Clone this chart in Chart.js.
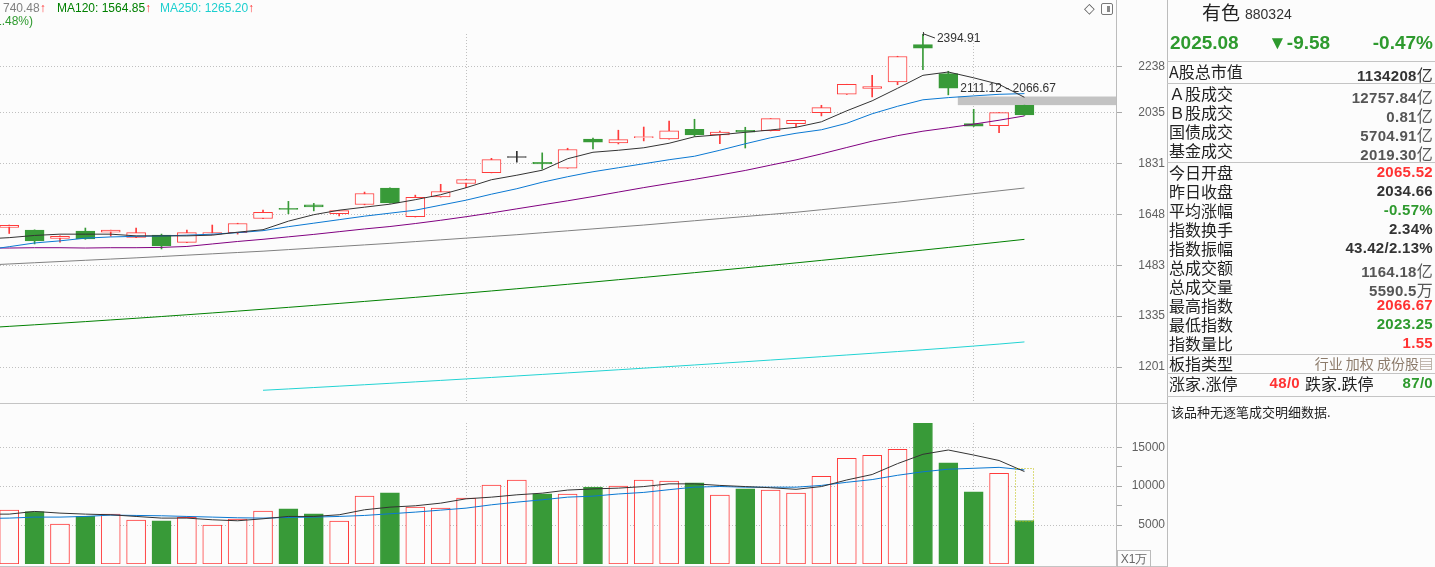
<!DOCTYPE html>
<html>
<head>
<meta charset="utf-8">
<script src="https://cdn.jsdelivr.net/npm/chart.js@4.4.1/dist/chart.umd.min.js"></script>
<style>
  body { margin:0; background:#fcfcfc; width:1435px; height:567px; overflow:hidden; position:relative;
         font-family:"Liberation Sans", Arial, sans-serif; }
  #pricebox { position:absolute; left:0; top:0; width:1165px; height:403px; }
  #volbox { position:absolute; left:0; top:404px; width:1165px; height:163px; }
  .hl { position:absolute; height:1px; background:#c4c4c4; }
  .vl { position:absolute; width:1px; background:#bcbcbc; }
  .hd { position:absolute; font-size:12px; line-height:14px; white-space:nowrap; }
  .up { color:#ff3030; }
  .rp { position:absolute; left:1169px; width:265px; height:19px; line-height:19px; font-size:16px;
        font-family:"Noto Sans CJK SC", sans-serif; color:#222; white-space:nowrap; }
  .rp b { position:absolute; right:1px; top:0; font:bold 15px "Liberation Sans", Arial, sans-serif; letter-spacing:0.3px; color:#333; }
  .rp b i { font:normal 16px "Noto Sans CJK SC", sans-serif; font-style:normal; }
  .g { color:#2e9a2e !important; }
  .r { color:#ff3232 !important; }
  .gy { color:#555 !important; }
</style>
</head>
<body>
<div id="pricebox"><canvas id="price"></canvas></div>
<div id="volbox"><canvas id="vol"></canvas></div>

<!-- frame lines -->
<div class="vl" style="left:1116px;top:0;height:567px"></div>
<div class="vl" style="left:1167px;top:0;height:567px"></div>
<div class="hl" style="left:0;top:403px;width:1167px"></div>
<div class="hl" style="left:0;top:566px;width:1167px"></div>

<!-- header -->
<div class="hd" style="left:3px;top:1px;color:#808080">740.48<span class="up">↑</span></div>
<div class="hd" style="left:57px;top:1px;color:#008000">MA120: 1564.85<span class="up">↑</span></div>
<div class="hd" style="left:160px;top:1px;color:#1ccfcf">MA250: 1265.20<span class="up">↑</span></div>
<div class="hd" style="left:-5px;top:14px;color:#2e9a2e">1.48%)</div>
<div class="hd" style="left:1084px;top:1px;font-size:14px;color:#555">◇</div>
<div style="position:absolute;left:1101px;top:3px;width:10px;height:10px;border:1px solid #777;border-radius:2px">
  <div style="position:absolute;left:5px;top:2px;width:3px;height:6px;background:#888"></div>
</div>
<div style="position:absolute;left:1117px;top:550px;width:32px;height:16px;border:1px solid #bbb;font-size:12px;line-height:16px;color:#666;text-align:center">X1万</div>

<!-- right panel -->
<div style="position:absolute;left:1202px;top:0;font:19px 'Noto Sans CJK SC';line-height:24px;color:#222">有色</div>
<div style="position:absolute;left:1245px;top:6px;font:14px 'Liberation Sans';color:#333">880324</div>
<div style="position:absolute;left:1170px;top:32px;font:bold 19px 'Liberation Sans';color:#2e9a2e">2025.08</div>
<div style="position:absolute;left:1268px;top:32px;font:bold 19px 'Liberation Sans';color:#2e9a2e">▼-9.58</div>
<div style="position:absolute;right:2px;top:32px;font:bold 19px 'Liberation Sans';color:#2e9a2e">-0.47%</div>
<div class="hl" style="left:1167px;top:61px;width:268px"></div>
<div class="rp" style="top:62px">A股总市值<b>1134208<i>亿</i></b></div>
<div class="hl" style="left:1167px;top:83px;width:268px"></div>
<div class="rp" style="top:84px">Ａ股成交<b class="gy">12757.84<i>亿</i></b></div>
<div class="rp" style="top:103px">Ｂ股成交<b class="gy">0.81<i>亿</i></b></div>
<div class="rp" style="top:122px">国债成交<b class="gy">5704.91<i>亿</i></b></div>
<div class="rp" style="top:141px">基金成交<b class="gy">2019.30<i>亿</i></b></div>
<div class="hl" style="left:1167px;top:162px;width:268px"></div>
<div class="rp" style="top:163px">今日开盘<b class="r">2065.52</b></div>
<div class="rp" style="top:182px">昨日收盘<b>2034.66</b></div>
<div class="rp" style="top:201px">平均涨幅<b class="g">-0.57%</b></div>
<div class="rp" style="top:220px">指数换手<b>2.34%</b></div>
<div class="rp" style="top:239px">指数振幅<b>43.42/2.13%</b></div>
<div class="rp" style="top:258px">总成交额<b class="gy">1164.18<i>亿</i></b></div>
<div class="rp" style="top:277px">总成交量<b class="gy">5590.5<i>万</i></b></div>
<div class="rp" style="top:296px">最高指数<b class="r">2066.67</b></div>
<div class="rp" style="top:315px">最低指数<b class="g">2023.25</b></div>
<div class="rp" style="top:334px">指数量比<b class="r">1.55</b></div>
<div class="hl" style="left:1167px;top:354px;width:268px"></div>
<div class="rp" style="top:354px">板指类型<span style="position:absolute;right:1px;font-size:14px;color:#8c7b6b">行业 加权 成份股▤</span></div>
<div class="hl" style="left:1167px;top:373px;width:268px"></div>
<div class="rp" style="top:374px">涨家.涨停<b class="r" style="right:134px">48/0</b><span style="position:absolute;left:136px">跌家.跌停</span><b class="g">87/0</b></div>
<div class="hl" style="left:1167px;top:396px;width:268px"></div>
<div style="position:absolute;left:1171px;top:402px;font:13px 'Noto Sans CJK SC';color:#222">该品种无逐笔成交明细数据.</div>

<script>
// daily candles, oldest first (index 40 = today)
const OPEN  = [1604,1595,1568,1592,1588,1571,1579,1555,1582,1587,1634,1667,1681,1650,1682,1740,1640,1709,1757,1797,1854,1836,1814,1926,1911,1932,1927,1966,1943,1962,1960,1989,2035,2114,2139,2168,2343,2206,1989,1981,2065.52];
const HIGH  = [1612,1596,1576,1602,1595,1602,1582,1595,1612,1618,1663,1693,1686,1662,1726,1741,1715,1754,1772,1851,1878,1872,1890,1930,1962,1975,1999,2007,1958,1974,2010,2003,2066,2158,2198,2287,2394.91,2217,2049,2035,2066.67];
const LOW   = [1584,1550,1556,1565,1575,1570,1534,1554,1581,1582,1633,1650,1660,1643,1681,1687,1639,1708,1742,1796,1836,1810,1813,1887,1907,1919,1926,1937,1908,1891,1959,1975,2021,2113,2102,2156,2224,2111.12,1977,1952,2023.25];
const CLOSE = [1611,1560,1575,1566,1595,1587,1544,1587,1587,1617,1655,1665,1674,1661,1721,1688,1707,1728,1771,1846,1854,1830,1885,1914,1924,1933,1960,1943,1954,1954,2010,2003,2056,2158,2148,2286,2326,2141,1978,2034.66,2025.08];
const VOLUME = [6923,6752,5128,6111,6410,5641,5556,5983,5000,5769,6795,7094,6453,5513,8718,9145,7308,7180,8462,10128,10769,9017,8975,9872,10000,10769,10641,10427,8846,9658,9487,9103,11282,13590,13974,14744,18120,12991,9274,11667,5590.5];
const PROJ_VOL = 12350;   // dotted box on today's bar

// moving averages; first entry is the session just left of the window
const MA5   = [1566,1570.4,1577.6,1581.8,1581.8,1581.8,1576.2,1576.2,1576.2,1578.5,1588.3,1596.5,1625.0,1646.9,1662.4,1672.8,1683.2,1698.9,1716.6,1741.6,1770.7,1787.3,1805.9,1849.4,1874.4,1882.2,1891.9,1909.7,1935.5,1943.6,1953.6,1962.9,1973.9,1996.5,2042.6,2085.3,2140.0,2198.4,2213.5,2187.0,2157.7,2100.5];
const MA10  = [1530,1541.3,1553.2,1560.0,1568.8,1572.7,1574.6,1575.9,1578.5,1581.8,1586.7,1593.3,1606.5,1618.2,1630.0,1641.9,1652.1,1662.4,1679.7,1697.2,1718.4,1738.0,1761.5,1781.7,1800.2,1815.2,1830.3,1845.6,1859.0,1882.2,1907.6,1931.6,1949.6,1963.8,1990.4,2030.0,2061.7,2089.7,2099.2,2106.6,2113.6,2116.6];
const MA20  = [1537,1537,1538,1538,1537,1538,1538,1539,1542,1550,1558,1565,1573,1581,1590,1599,1607,1617,1628,1640,1653,1667,1681,1695,1710,1726,1742,1757,1772,1788,1805,1825,1845,1868,1893,1918,1940,1958,1972,1987,2003,2021];
const MA60  = [1483.2,1487.0,1490.8,1494.6,1498.4,1502.2,1506.0,1510.2,1514.4,1518.6,1522.8,1527.0,1532.0,1537.0,1542.0,1547.0,1552.0,1557.6,1563.2,1568.8,1574.4,1580.0,1586.4,1592.8,1599.2,1605.6,1612.0,1619.2,1626.4,1633.6,1640.8,1648.0,1655.2,1664.0,1672.7,1681.4,1690.0,1700.1,1710.2,1720.3,1730.4,1740.48];
const MA120 = [1302.5,1306.7,1310.9,1315.2,1319.6,1324.2,1328.8,1333.6,1338.5,1343.5,1348.6,1353.9,1359.2,1364.7,1370.3,1376.0,1381.8,1387.7,1393.8,1399.9,1406.2,1412.6,1419.1,1425.7,1432.4,1439.3,1446.2,1453.3,1460.5,1467.8,1475.2,1482.8,1490.4,1498.2,1506.1,1514.1,1522.2,1530.4,1538.8,1547.3,1556.0,1564.85];
const MA250 = [null,null,null,null,null,null,null,null,null,null,null,1144.6,1147.8,1151.1,1154.4,1157.8,1161.2,1164.7,1168.2,1171.8,1175.4,1179.1,1182.8,1186.6,1190.4,1194.3,1198.2,1202.2,1206.2,1210.3,1214.4,1218.6,1222.8,1227.1,1231.4,1235.8,1240.2,1244.7,1249.4,1254.4,1259.6,1265.2];
const VMA5  = [6400,6411,6753,6539,6411,6326,6112,5898,5898,5684,5556,5813,6112,6112,6326,6967,7309,7480,7821,8377,8591,8890,9104,9500,9650,9750,9950,10300,10300,10100,9950,9800,9600,9950,10800,11500,12900,14100,14650,14000,13300,11882];
const VMA10 = [5850,5898,6026,6026,6112,6283,6240,6197,6112,6026,5941,5898,5984,6026,6112,6240,6454,6667,6924,7180,7608,7950,8249,8591,8720,9000,9200,9550,9880,9958,9873,9873,9873,10100,10500,10850,11400,11850,12181,12300,12420,12096];

const PRICE_TICKS = [1201,1335,1483,1648,1831,2035,2238];
const VOL_TICKS = [5000,7500,10000,12500,15000];
const MONTH_START = [18, 38];      // dotted vertical separators
const GAP_RANGE = [2066.67, 2104]; // unfilled gap after candle 37
const GAP_FROM = 37;

const RED = '#ff3b3b', GREEN = '#389a38', BG = '#fcfcfc';
const X_MIN = -0.363, X_MAX = 43.607;
const idx = OPEN.map((_, i) => i);
const isUp = i => CLOSE[i] >= OPEN[i];
const candleColor = i => OPEN[i] === CLOSE[i] ? '#333' : (isUp(i) ? RED : GREEN);

Chart.defaults.font.family = '"Liberation Sans", Arial, sans-serif';
Chart.defaults.font.size = 12;

const maLine = (arr, color) => ({
  type: 'line',
  data: arr.map((v, i) => ({ x: i - 1, y: v })),
  borderColor: color, borderWidth: 1, pointRadius: 0, tension: 0, order: 1,
});

function xScale() {
  return {
    type: 'linear', min: X_MIN, max: X_MAX, offset: false,
    ticks: { display: false },
    grid: { offset: false, drawTicks: false, color: '#c0c0c0' },
    border: { display: false, dash: [1, 2] },
    afterBuildTicks: s => { s.ticks = MONTH_START.map(v => ({ value: v })); },
    afterFit: s => { s.height = 0; },
  };
}

// right axis: fixed width, and no label padding eating into the plot
const fitRightAxis = s => { s.width = 49; s.paddingTop = 0; s.paddingBottom = 0; };

const notesPlugin = {
  id: 'notes',
  beforeDatasetsDraw(chart) {
    const { ctx, chartArea, scales: { x, y } } = chart;
    const x0 = x.getPixelForValue(GAP_FROM) + 9.5;
    const y0 = y.getPixelForValue(GAP_RANGE[1]);
    const y1 = y.getPixelForValue(GAP_RANGE[0]);
    ctx.save();
    ctx.fillStyle = '#c3c3c3';
    ctx.fillRect(x0, y0, chartArea.right - x0, y1 - y0);
    ctx.restore();
  },
  afterDatasetsDraw(chart) {
    const { ctx, scales: { x, y } } = chart;
    ctx.save();
    ctx.fillStyle = '#333';
    ctx.strokeStyle = '#333';
    ctx.lineWidth = 1;
    ctx.font = '12px "Liberation Sans", Arial';
    ctx.textBaseline = 'middle';
    // peak marker
    const top = HIGH.indexOf(Math.max(...HIGH));
    const hx = x.getPixelForValue(top), hy = y.getPixelForValue(HIGH[top]);
    ctx.beginPath();
    ctx.moveTo(hx + 0.5, hy - 2); ctx.lineTo(hx + 0.5, hy + 2);
    ctx.moveTo(hx + 1, hy); ctx.lineTo(hx + 12, hy + 4);
    ctx.stroke();
    ctx.fillText(HIGH[top].toFixed(2), hx + 14, hy + 5);
    // gap label
    const gx = x.getPixelForValue(GAP_FROM) + 12;
    const gy = y.getPixelForValue(GAP_RANGE[1]) - 8;
    ctx.fillText(LOW[GAP_FROM].toFixed(2) + ' - ' + GAP_RANGE[0].toFixed(2), gx, gy);
    ctx.restore();
  },
};

new Chart(document.getElementById('price'), {
  type: 'bar',
  data: {
    datasets: [
      maLine(MA5, '#333333'),
      maLine(MA10, '#0a78d2'),
      maLine(MA20, '#800080'),
      maLine(MA60, '#808080'),
      maLine(MA120, '#008000'),
      maLine(MA250, '#22d3d3'),
      {
        data: idx.map(i => ({ x: i, y: [Math.min(OPEN[i], CLOSE[i]), Math.max(OPEN[i], CLOSE[i])] })),
        backgroundColor: idx.map(i => (isUp(i) && OPEN[i] !== CLOSE[i]) ? BG : candleColor(i)),
        borderColor: idx.map(candleColor),
        borderWidth: 1, borderSkipped: false, barThickness: 19, minBarLength: 1, grouped: false, order: 2,
      },
      {
        data: idx.map(i => ({ x: i, y: [LOW[i], HIGH[i]] })),
        backgroundColor: idx.map(candleColor),
        barThickness: 1, grouped: false, order: 3,
      },
    ],
  },
  options: {
    responsive: true, maintainAspectRatio: false, animation: false, events: [],
    layout: { padding: { top: 34, left: 0, right: 0, bottom: 0 } },
    plugins: { legend: { display: false }, tooltip: { enabled: false } },
    scales: {
      x: xScale(),
      y: {
        type: 'logarithmic', position: 'right', min: 1114.8, max: 2394.91,
        afterBuildTicks: s => { s.ticks = PRICE_TICKS.map(v => ({ value: v })); },
        afterFit: fitRightAxis,
        ticks: { callback: v => String(v), color: '#606060', padding: 13, crossAlign: 'far' },
        grid: { color: '#c0c0c0', tickColor: '#a8a8a8', tickLength: 6 },
        border: { display: false, dash: [1, 2] },
      },
    },
  },
  plugins: [notesPlugin],
});

const projPlugin = {
  id: 'proj',
  afterDatasetsDraw(chart) {
    const meta = chart.getDatasetMeta(3);
    const el = meta.data[0];
    if (!el) return;
    const { x, y, base, width } = el.getProps(['x', 'y', 'base', 'width'], true);
    const ctx = chart.ctx;
    ctx.save();
    ctx.strokeStyle = '#bcbc00';
    ctx.lineWidth = 1;
    ctx.setLineDash([1, 2]);
    ctx.strokeRect(Math.round(x - width / 2) + 0.5, Math.round(y) + 0.5, Math.round(width) - 1, Math.round(base - y));
    ctx.restore();
  },
};

new Chart(document.getElementById('vol'), {
  type: 'bar',
  data: {
    datasets: [
      maLine(VMA5, '#333333'),
      maLine(VMA10, '#0a78d2'),
      {
        data: idx.map(i => ({ x: i, y: VOLUME[i] })),
        backgroundColor: idx.map(i => isUp(i) ? BG : GREEN),
        borderColor: idx.map(i => isUp(i) ? RED : GREEN),
        borderWidth: 1, borderSkipped: false, barThickness: 19, grouped: false, order: 2,
      },
      {
        data: [{ x: OPEN.length - 1, y: [VOLUME[VOLUME.length - 1], PROJ_VOL] }],
        backgroundColor: 'transparent', borderWidth: 0, barThickness: 19, grouped: false, order: 3,
      },
    ],
  },
  options: {
    responsive: true, maintainAspectRatio: false, animation: false, events: [],
    layout: { padding: { top: 19, left: 0, right: 0, bottom: 3 } },
    plugins: { legend: { display: false }, tooltip: { enabled: false } },
    scales: {
      x: xScale(),
      y: {
        position: 'right', min: 0, max: 18120,
        afterBuildTicks: s => { s.ticks = VOL_TICKS.map(v => ({ value: v })); },
        afterFit: fitRightAxis,
        ticks: { callback: v => (v % 5000 === 0 ? String(v) : ''), color: '#606060', padding: 6, crossAlign: 'far' },
        grid: {
          color: c => (c.tick && c.tick.value % 5000 === 0 ? '#c0c0c0' : 'rgba(0,0,0,0)'),
          tickColor: '#a8a8a8', tickLength: 6,
        },
        border: { display: false, dash: [1, 2] },
      },
    },
  },
  plugins: [projPlugin],
});
</script>
</body>
</html>
